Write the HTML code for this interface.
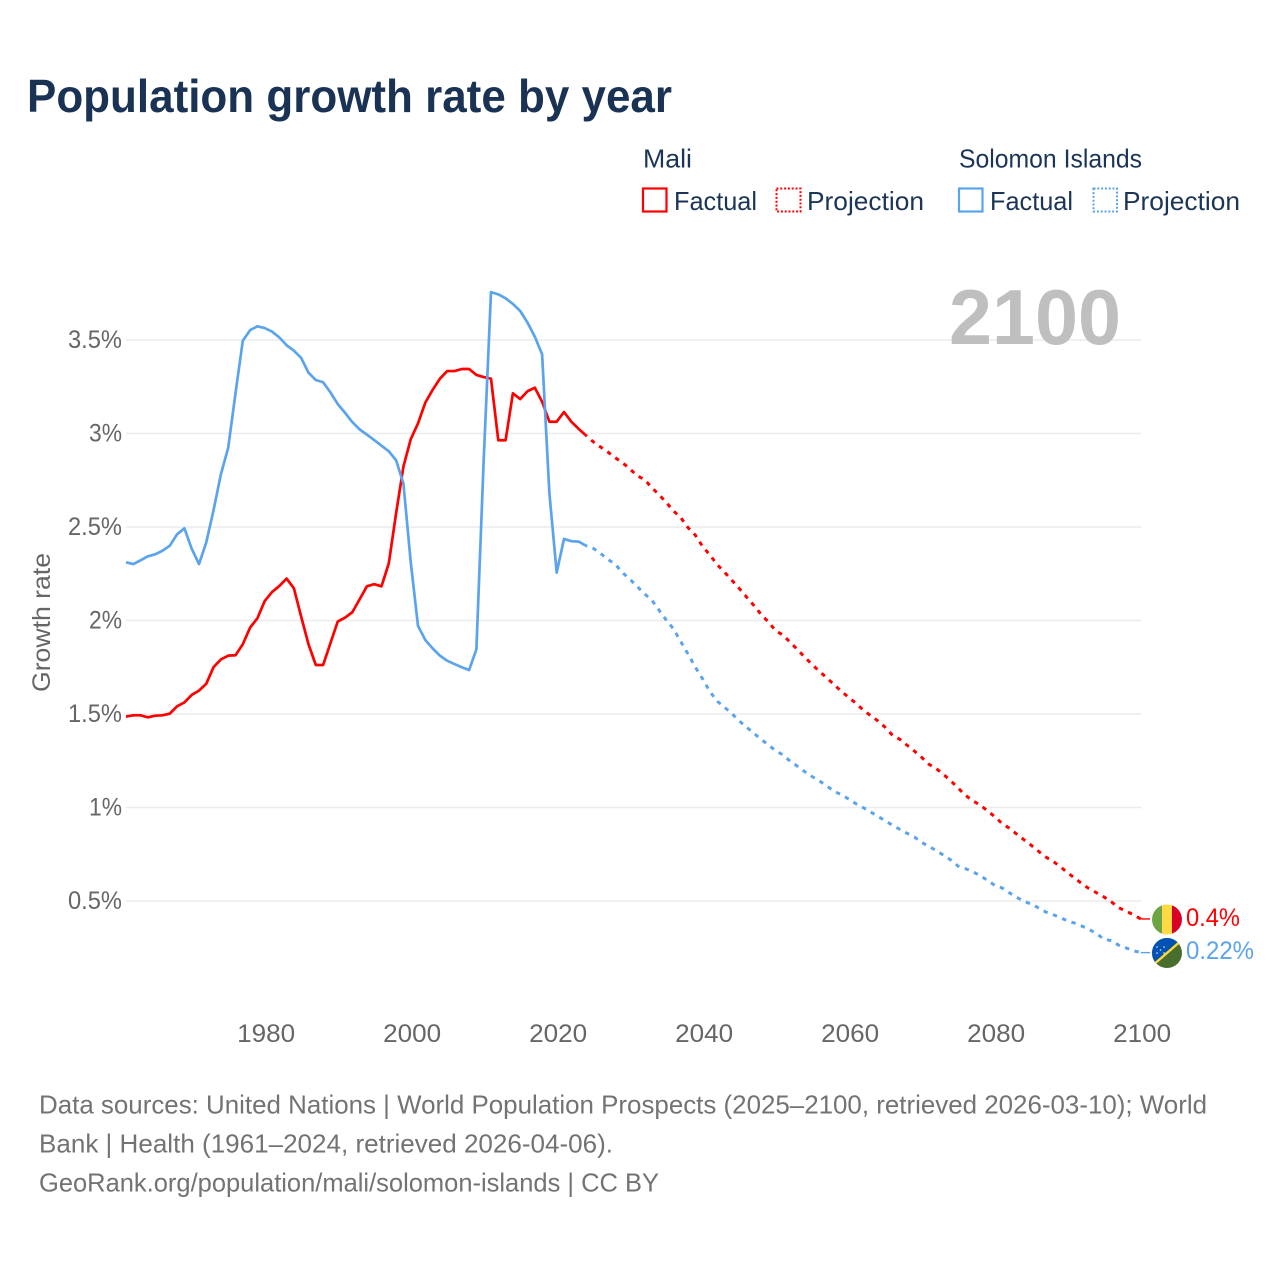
<!DOCTYPE html>
<html lang="en">
<head>
<meta charset="utf-8">
<title>Population growth rate by year</title>
<style>
html,body{margin:0;padding:0;background:#fff;}
svg{display:block;}
text{font-family:"Liberation Sans",sans-serif;}
</style>
</head>
<body>
<svg id="chart" xmlns="http://www.w3.org/2000/svg" width="1280" height="1280" viewBox="0 0 1280 1280">
  <rect width="1280" height="1280" fill="#fff"/>
  <text x="27" y="112" font-size="46" font-weight="700" fill="#1a3354" textLength="645" lengthAdjust="spacingAndGlyphs">Population growth rate by year</text>

  <g font-size="26" fill="#1b3556">
    <text x="643" y="167.5" textLength="49" lengthAdjust="spacingAndGlyphs">Mali</text>
    <rect x="643" y="188.5" width="23.5" height="23" fill="none" stroke="#ff0000" stroke-width="2.2"/>
    <text x="674" y="210" textLength="83" lengthAdjust="spacingAndGlyphs">Factual</text>
    <rect x="776.5" y="188.5" width="24" height="23" fill="none" stroke="#ff0000" stroke-width="2" stroke-dasharray="2 1.8"/>
    <text x="807" y="210" textLength="117" lengthAdjust="spacingAndGlyphs">Projection</text>
    <text x="959" y="167.5" textLength="183" lengthAdjust="spacingAndGlyphs">Solomon Islands</text>
    <rect x="959" y="188.5" width="23.5" height="23" fill="none" stroke="#5ba4ec" stroke-width="2.2"/>
    <text x="990" y="210" textLength="83" lengthAdjust="spacingAndGlyphs">Factual</text>
    <rect x="1093.5" y="188.5" width="23.5" height="23" fill="none" stroke="#5ba4ec" stroke-width="2" stroke-dasharray="2 1.8"/>
    <text x="1123" y="210" textLength="117" lengthAdjust="spacingAndGlyphs">Projection</text>
  </g>

  <g id="grid"></g>
  <text x="949" y="344" font-size="78" font-weight="700" fill="#bfbfbf" textLength="172" lengthAdjust="spacingAndGlyphs">2100</text>
  <g id="yticks" font-size="25" fill="#666"></g>
  <g id="xticks" font-size="25" fill="#666"></g>
  <text transform="translate(50,692) rotate(-90)" font-size="25" fill="#666" textLength="139" lengthAdjust="spacingAndGlyphs">Growth rate</text>
  <g id="series"></g>

  <defs>
    <clipPath id="clipMali"><circle cx="1167" cy="919.5" r="15"/></clipPath>
    <clipPath id="clipSolomon"><circle cx="1167" cy="953" r="15"/></clipPath>
  </defs>
  <g clip-path="url(#clipMali)">
    <rect x="1151" y="904" width="11" height="31" fill="#6da544"/>
    <rect x="1162" y="904" width="10" height="31" fill="#ffda44"/>
    <rect x="1172" y="904" width="11" height="31" fill="#d80027"/>
  </g>
  <g clip-path="url(#clipSolomon)">
    <rect x="1151" y="937" width="32" height="32" fill="#496e2d"/>
    <polygon points="1151,937 1183,937 1151,965" fill="#0052b4"/>
    <line x1="1152" y1="966" x2="1182" y2="940" stroke="#ffda44" stroke-width="2.2"/>
    <g fill="#f0f0f0">
      <circle cx="1157" cy="947" r="0.8"/><circle cx="1164" cy="947" r="0.8"/><circle cx="1160.5" cy="950" r="0.8"/><circle cx="1157" cy="953" r="0.8"/><circle cx="1164" cy="953" r="0.8"/>
    </g>
  </g>
  <text x="1186" y="926" font-size="25" fill="#ff0000" textLength="54" lengthAdjust="spacingAndGlyphs">0.4%</text>
  <text x="1186" y="959" font-size="25" fill="#5ba4ec" textLength="68" lengthAdjust="spacingAndGlyphs">0.22%</text>

  <g font-size="26" fill="#737373">
    <text x="39" y="1113.5" textLength="1168" lengthAdjust="spacingAndGlyphs">Data sources: United Nations | World Population Prospects (2025–2100, retrieved 2026-03-10); World</text>
    <text x="39" y="1152.5" textLength="574" lengthAdjust="spacingAndGlyphs">Bank | Health (1961–2024, retrieved 2026-04-06).</text>
    <text x="39" y="1191.5" textLength="620" lengthAdjust="spacingAndGlyphs">GeoRank.org/population/mali/solomon-islands | CC BY</text>
  </g>
</svg>
<script>
const yTickValues = [0.5, 1, 1.5, 2, 2.5, 3, 3.5];
const yTickLabels = ["0.5%", "1%", "1.5%", "2%", "2.5%", "3%", "3.5%"];
const xTickYears = [1980, 2000, 2020, 2040, 2060, 2080, 2100];
const xTickLabels = ["1980", "2000", "2020", "2040", "2060", "2080", "2100"];
const firstFactualYear = 1961;
const firstProjectionYear = 2025;

const maliFactual = [1.486,1.493,1.493,1.482,1.491,1.493,1.502,1.541,1.562,1.602,1.625,1.662,1.751,1.792,1.812,1.814,1.873,1.962,2.012,2.104,2.152,2.184,2.224,2.172,2.02,1.873,1.762,1.762,1.878,1.994,2.015,2.044,2.113,2.183,2.194,2.183,2.306,2.573,2.822,2.969,3.054,3.165,3.233,3.293,3.334,3.334,3.345,3.345,3.313,3.302,3.293,2.964,2.964,3.215,3.184,3.226,3.245,3.17,3.063,3.063,3.115,3.063,3.025,2.99];
const solomonFactual = [2.311,2.302,2.322,2.343,2.354,2.373,2.40,2.461,2.493,2.384,2.302,2.418,2.591,2.782,2.924,3.215,3.496,3.553,3.573,3.564,3.545,3.514,3.472,3.443,3.404,3.325,3.286,3.274,3.22,3.158,3.111,3.061,3.022,2.994,2.965,2.935,2.905,2.857,2.733,2.314,1.971,1.896,1.851,1.812,1.785,1.767,1.75,1.735,1.846,2.859,3.756,3.744,3.723,3.693,3.655,3.593,3.518,3.424,2.68,2.256,2.436,2.424,2.422,2.40];
const maliProjection = [2.956,2.928,2.901,2.871,2.844,2.812,2.774,2.755,2.712,2.673,2.632,2.586,2.55,2.496,2.456,2.395,2.35,2.298,2.258,2.215,2.172,2.126,2.081,2.033,1.992,1.945,1.922,1.883,1.844,1.803,1.764,1.728,1.693,1.657,1.621,1.589,1.557,1.521,1.492,1.463,1.429,1.386,1.365,1.333,1.302,1.268,1.231,1.208,1.176,1.142,1.104,1.065,1.036,1.013,0.983,0.951,0.915,0.889,0.858,0.828,0.798,0.766,0.735,0.712,0.683,0.651,0.621,0.591,0.564,0.543,0.521,0.495,0.464,0.445,0.427,0.404];
const solomonProjection = [2.386,2.359,2.327,2.302,2.256,2.222,2.183,2.143,2.111,2.056,2.003,1.955,1.887,1.82,1.75,1.687,1.619,1.568,1.536,1.502,1.463,1.43,1.397,1.365,1.334,1.304,1.281,1.247,1.22,1.191,1.165,1.142,1.115,1.087,1.068,1.045,1.02,0.999,0.976,0.953,0.929,0.905,0.883,0.862,0.842,0.814,0.79,0.771,0.744,0.719,0.686,0.673,0.657,0.635,0.611,0.584,0.57,0.544,0.52,0.498,0.484,0.463,0.441,0.427,0.411,0.393,0.381,0.365,0.347,0.324,0.295,0.288,0.263,0.249,0.234,0.224];

const NS = "http://www.w3.org/2000/svg";
function xScale(year){ return 126 + (year - 1961) * 7.3; }
function yScale(v){ return 994.5 - 187 * v; }
function linePath(startYear, values){
  let d = "";
  for (let i = 0; i < values.length; i++) {
    d += (i ? "L" : "M") + xScale(startYear + i).toFixed(2) + " " + yScale(values[i]).toFixed(2);
  }
  return d;
}

const grid = document.getElementById("grid");
const yticks = document.getElementById("yticks");
yTickValues.forEach(function(v, i){
  const ln = document.createElementNS(NS, "line");
  ln.setAttribute("x1", 126);
  ln.setAttribute("x2", 1141.5);
  ln.setAttribute("y1", yScale(v));
  ln.setAttribute("y2", yScale(v));
  ln.setAttribute("stroke", "#ececec");
  ln.setAttribute("stroke-width", 1.4);
  
  
  grid.appendChild(ln);
  const t = document.createElementNS(NS, "text");
  t.setAttribute("x", 122);
  t.setAttribute("y", yScale(v) + 8);
  t.setAttribute("text-anchor", "end");
  t.setAttribute("textLength", yTickLabels[i].length > 2 ? 54 : 33);
  t.setAttribute("lengthAdjust", "spacingAndGlyphs");
  t.textContent = yTickLabels[i];
  
  
  yticks.appendChild(t);
});

const xticks = document.getElementById("xticks");
xTickYears.forEach(function(yr, i){
  const t = document.createElementNS(NS, "text");
  t.setAttribute("x", xScale(yr) + 1.5);
  t.setAttribute("y", 1042);
  t.setAttribute("text-anchor", "middle");
  t.setAttribute("textLength", 58);
  t.setAttribute("lengthAdjust", "spacingAndGlyphs");
  t.textContent = xTickLabels[i];
  
  
  xticks.appendChild(t);
});

const seriesGroup = document.getElementById("series");
function drawSeries(factual, projection, color, key){
  const solid = document.createElementNS(NS, "path");
  solid.setAttribute("d", linePath(firstFactualYear, factual));
  solid.setAttribute("fill", "none");
  solid.setAttribute("stroke", color);
  solid.setAttribute("stroke-width", 2.7);
  solid.setAttribute("stroke-linejoin", "round");
  
  
  solid.setAttribute("data-series", key);
  seriesGroup.appendChild(solid);

  const joined = [factual[factual.length - 1]].concat(projection);
  const dash = document.createElementNS(NS, "path");
  dash.setAttribute("d", linePath(firstProjectionYear - 1, joined));
  dash.setAttribute("fill", "none");
  dash.setAttribute("stroke", color);
  dash.setAttribute("stroke-width", 3);
  dash.setAttribute("stroke-dasharray", "4.4 5.6");
  dash.setAttribute("stroke-dashoffset", "-7");
  
  
  dash.setAttribute("data-series", key);
  seriesGroup.appendChild(dash);

  const last = projection[projection.length - 1];
  const lead = document.createElementNS(NS, "line");
  lead.setAttribute("x1", xScale(2100));
  lead.setAttribute("x2", 1150);
  lead.setAttribute("y1", yScale(last));
  lead.setAttribute("y2", yScale(last));
  lead.setAttribute("stroke", color);
  lead.setAttribute("stroke-width", 1.4);
  
  
  seriesGroup.appendChild(lead);
}
drawSeries(maliFactual, maliProjection, "#ff0000", "mali");
drawSeries(solomonFactual, solomonProjection, "#5ba4ec", "solomon-islands");
</script>
</body>
</html>
